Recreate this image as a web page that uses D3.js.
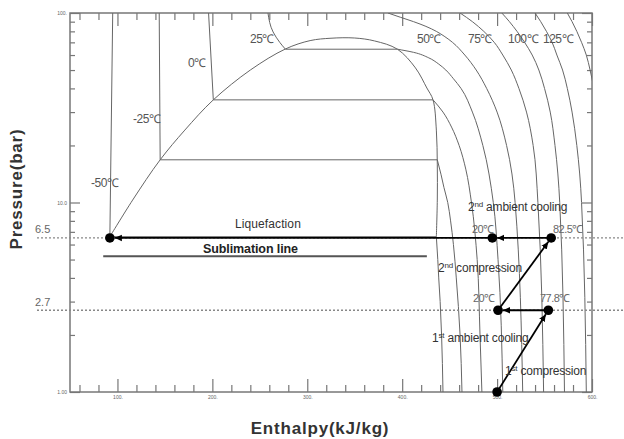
<!DOCTYPE html>
<html>
<head>
<meta charset="utf-8">
<script src="https://cdn.jsdelivr.net/npm/d3@7"></script>
<style>
  html, body { margin: 0; padding: 0; background: #fff; }
  svg { display: block; }
  text { font-family: "Liberation Sans", Arial, sans-serif; }
</style>
</head>
<body>
<script>
// ---- data (enthalpy kJ/kg, pressure bar) ----
const hTicksMajor = [100, 200, 300, 400, 500, 600]
const hTicksMinor = [60, 80, 120, 140, 160, 180, 220, 240, 260, 280, 320, 340, 360, 380, 420, 440, 460, 480, 520, 540, 560, 580]
const pTicksMajor = [1, 10, 100]
const pTicksMinor = [2, 3, 4, 5, 6, 7, 8, 9, 20, 30, 40, 50, 60, 70, 80, 90]
const pTickLabels = { 1: '1.00', 10: '10.0', 100: '100.' }

const domeH = [92, 116, 145, 171, 201, 240, 277, 303, 325, 350, 371, 395, 414, 426, 432.5, 436, 437, 437, 436]
const domeP = [6.6, 10.3, 16.8, 24.1, 34.8, 50, 64.6, 71.5, 73.6, 73.8, 71.2, 64.4, 51.3, 40.2, 34.8, 24.1, 15.8, 10.3, 6.6]

// tie lines: [temperature, pressure, h liquid, h vapour]
const tieT = ['-50', '-25', '0', '25']
const tieP = [6.6, 16.8, 34.8, 64.4]
const tieHl = [92, 145, 201, 277]
const tieHv = [436, 437, 432.5, 395]

// isotherms, liquid side
const isoLiquid = [
  { t: '-50', h: [95, 92], p: [100, 6.6] },
  { t: '-25', h: [144, 145], p: [100, 16.8] },
  { t: '0', h: [196, 201], p: [100, 34.8] },
  { t: '25', h: [258.6, 264, 271, 277], p: [100, 79.4, 70, 64.4] }
]
// isotherms, vapour / supercritical side
const isoVapour = [
  { t: '-50', h: [436, 437.5, 438.5, 440, 441.5, 443], p: [6.6, 5, 4, 3, 2, 1] },
  { t: '-25', h: [437, 441, 444, 448, 451, 454, 457, 461, 463], p: [16.8, 14, 12, 10, 8, 6, 4, 2, 1] },
  { t: '0', h: [432.5, 443, 452, 460, 467, 473, 479, 482, 484], p: [34.8, 30, 25, 20, 15, 10, 5, 2, 1] },
  { t: '25', h: [395, 412, 428, 438, 446, 454, 462, 474, 485, 496, 501, 506], p: [64.4, 62, 58, 54, 50, 45, 40, 30, 20, 10, 5, 1] },
  { t: '50', h: [385, 398, 412, 425, 436, 445, 453, 466, 478, 489, 500, 510, 519, 527], p: [100, 95, 90, 85, 80, 75, 70, 60, 50, 40, 30, 20, 10, 1] },
  { t: '75', h: [461, 474, 486, 497, 506, 515, 523, 531, 538, 543, 549], p: [100, 90, 80, 70, 60, 50, 40, 30, 20, 10, 1] },
  { t: '100', h: [505, 513, 521, 529, 537, 544, 550, 556, 561, 566, 571], p: [100, 90, 80, 70, 60, 50, 40, 30, 20, 10, 1] },
  { t: '125', h: [540, 546, 552, 558, 563, 569, 574, 579, 584, 589, 594], p: [100, 90, 80, 70, 60, 50, 40, 30, 20, 10, 1] },
  { t: '150', h: [574, 579, 584, 589, 594, 598, 602, 606], p: [100, 90, 80, 70, 60, 50, 40, 30] }
]

const sublimationP = 5.2
const sublimationH = [85, 426]

// process states: A(start) B(77.8) C(20) D(82.5) E(20) F(liquid)
const stateName = ['A', 'B', 'C', 'D', 'E', 'F']
const stateH = [500, 554, 501, 557, 495, 92]
const stateP = [1, 2.7, 2.7, 6.5, 6.5, 6.5]
const refPressures = [6.5, 2.7]

// ---- layout ----
const width = 624, height = 439
const x = d3.scaleLinear().domain([50, 600]).range([70, 592])
const y = d3.scaleLog().domain([1, 100]).range([392, 13])
const dotR = 4.8

let svg = d3.select('body').append('svg')
  .attr('width', width)
  .attr('height', height)

let defs = svg.append('defs')
defs.append('marker')
  .attr('id', 'arrow')
  .attr('viewBox', '0 0 10 10')
  .attr('refX', 10).attr('refY', 5)
  .attr('markerWidth', 4).attr('markerHeight', 4)
  .attr('markerUnits', 'strokeWidth')
  .attr('orient', 'auto')
  .append('path').attr('d', 'M0,0.5 L10,5 L0,9.5 Z').attr('fill', '#000')

const curveColor = '#666'

// axes
const axisG = svg.append('g').attr('class', 'axes')
function styleAxis(g) {
  g.select('.domain').remove()
  g.selectAll('line').attr('stroke', '#777').attr('stroke-width', 1.2)
  g.selectAll('text').attr('font-size', 5).attr('fill', '#666')
}
axisG.append('g').attr('transform', 'translate(0,392)')
  .call(d3.axisBottom(x).tickValues(hTicksMajor).tickSize(-13).tickPadding(3).tickFormat(d => d + '.'))
  .call(styleAxis)
axisG.append('g').attr('transform', 'translate(0,392)')
  .call(d3.axisBottom(x).tickValues(hTicksMinor).tickSize(-7).tickFormat(''))
  .call(styleAxis)
axisG.append('g').attr('transform', 'translate(0,13)')
  .call(d3.axisTop(x).tickValues(hTicksMajor).tickSize(-13).tickFormat(''))
  .call(styleAxis)
axisG.append('g').attr('transform', 'translate(0,13)')
  .call(d3.axisTop(x).tickValues(hTicksMinor).tickSize(-7).tickFormat(''))
  .call(styleAxis)
axisG.append('g').attr('transform', 'translate(70,0)')
  .call(d3.axisLeft(y).tickValues(pTicksMajor).tickSize(-10).tickPadding(3).tickFormat(d => pTickLabels[d]))
  .call(styleAxis)
axisG.append('g').attr('transform', 'translate(70,0)')
  .call(d3.axisLeft(y).tickValues(pTicksMinor).tickSize(-5).tickFormat(''))
  .call(styleAxis)
axisG.append('g').attr('transform', 'translate(592,0)')
  .call(d3.axisRight(y).tickValues(pTicksMajor).tickSize(-10).tickFormat(''))
  .call(styleAxis)
axisG.append('g').attr('transform', 'translate(592,0)')
  .call(d3.axisRight(y).tickValues(pTicksMinor).tickSize(-5).tickFormat(''))
  .call(styleAxis)

svg.append('rect')
  .attr('x', x(50)).attr('y', y(100))
  .attr('width', x(600) - x(50)).attr('height', y(1) - y(100))
  .attr('fill', 'none').attr('stroke', '#777').attr('stroke-width', 1.5)

// clip for curves
defs.append('clipPath').attr('id', 'plotClip')
  .append('rect')
  .attr('x', x(50)).attr('y', y(100))
  .attr('width', x(600) - x(50)).attr('height', y(1) - y(100))

let curves = svg.append('g').attr('clip-path', 'url(#plotClip)')
  .attr('fill', 'none').attr('stroke', curveColor).attr('stroke-width', 1)

const isoLine = d3.line().x(d => x(d[0])).y(d => y(d[1])).curve(d3.curveMonotoneY)
const domeLine = d3.line().x(d => x(d[0])).y(d => y(d[1])).curve(d3.curveCatmullRom.alpha(0.5))

curves.append('path').attr('d', domeLine(domeH.map((h, i) => [h, domeP[i]])))

isoLiquid.concat(isoVapour).forEach(iso => {
  curves.append('path').attr('d', isoLine(iso.h.map((h, i) => [h, iso.p[i]])))
})

tieP.forEach((p, i) => {
  curves.append('line')
    .attr('x1', x(tieHl[i])).attr('x2', x(tieHv[i]))
    .attr('y1', y(p)).attr('y2', y(p))
})

// sublimation line
svg.append('line')
  .attr('x1', x(sublimationH[0])).attr('x2', x(sublimationH[1]))
  .attr('y1', y(sublimationP)).attr('y2', y(sublimationP))
  .attr('stroke', '#555').attr('stroke-width', 2)

// dotted reference pressures
refPressures.forEach(p => {
  svg.append('line')
    .attr('x1', 37).attr('x2', width)
    .attr('y1', y(p)).attr('y2', y(p))
    .attr('stroke', '#888').attr('stroke-width', 1.3)
    .attr('stroke-dasharray', '2,2')
})

// process path, arrows stop at the edge of the next dot
const st = stateName.map((n, i) => ({ n: n, h: stateH[i], p: stateP[i] }))
const legs = [[0, 1], [1, 2], [2, 3], [3, 4], [4, 5]]
let proc = svg.append('g')
legs.forEach(([a, b]) => {
  let x1 = x(st[a].h), y1 = y(st[a].p), x2 = x(st[b].h), y2 = y(st[b].p)
  let len = Math.hypot(x2 - x1, y2 - y1)
  let ux = (x2 - x1) / len, uy = (y2 - y1) / len
  proc.append('line')
    .attr('x1', x1).attr('y1', y1)
    .attr('x2', x2 - ux * dotR).attr('y2', y2 - uy * dotR)
    .attr('stroke', '#000').attr('stroke-width', 1.8)
    .attr('marker-end', 'url(#arrow)')
})
proc.selectAll('circle').data(st).join('circle')
  .attr('cx', d => x(d.h)).attr('cy', d => y(d.p))
  .attr('r', dotR).attr('fill', '#000')

// isotherm labels
const serif = '"Liberation Serif", "Times New Roman", serif'
const isoLabels = [
  ['-50℃', 91, 187], ['-25℃', 133, 123], ['0℃', 188, 67], ['25℃', 250, 43],
  ['50℃', 417, 43], ['75℃', 468, 43], ['100℃', 508, 43], ['125℃', 543, 43]
]
svg.append('g').selectAll('text').data(isoLabels).join('text')
  .attr('x', d => d[1]).attr('y', d => d[2])
  .attr('font-family', serif).attr('font-size', 12).attr('fill', '#555')
  .attr('letter-spacing', -0.5)
  .text(d => d[0])

// pressure labels
svg.append('text').attr('x', 35).attr('y', 233).attr('font-size', 11).attr('fill', '#666').text('6.5')
svg.append('text').attr('x', 35).attr('y', 306).attr('font-size', 11).attr('fill', '#666').text('2.7')

// annotations
function note(xp, yp, parts, opts) {
  let t = svg.append('text').attr('x', xp).attr('y', yp)
    .attr('font-size', opts && opts.size || 12)
    .attr('fill', opts && opts.fill || '#333')
    .attr('font-weight', opts && opts.bold ? 'bold' : null)
    .attr('letter-spacing', opts && opts.ls || -0.2)
  parts.forEach(p => {
    if (p.sup) t.append('tspan').attr('dy', -4).attr('font-size', 8).text(p.s)
    else t.append('tspan').attr('dy', p.after ? 4 : 0).text(p.s)
  })
  return t
}
note(235, 228, [{ s: 'Liquefaction' }], { ls: 0.1 })
note(203, 253, [{ s: 'Sublimation line' }], { bold: true, size: 12.5, fill: '#222', ls: -0.1 })
note(468, 211, [{ s: '2' }, { s: 'nd', sup: true }, { s: ' ambient cooling', after: true }])
note(438, 272, [{ s: '2' }, { s: 'nd', sup: true }, { s: ' compression', after: true }])
note(432, 342, [{ s: '1' }, { s: 'st', sup: true }, { s: ' ambient cooling', after: true }])
note(505, 375, [{ s: '1' }, { s: 'st', sup: true }, { s: ' compression', after: true }])

const stateLabels = [['20℃', 472, 233], ['82.5℃', 553, 233], ['20℃', 473, 302], ['77.8℃', 540, 302]]
svg.append('g').selectAll('text').data(stateLabels).join('text')
  .attr('x', d => d[1]).attr('y', d => d[2])
  .attr('font-size', 11).attr('fill', '#666').attr('letter-spacing', -0.5)
  .text(d => d[0])

// axis titles
svg.append('text')
  .attr('transform', 'translate(22,189) rotate(-90)')
  .attr('text-anchor', 'middle')
  .attr('font-family', '"DejaVu Sans", sans-serif')
  .attr('font-weight', 'bold').attr('font-size', 17).attr('fill', '#333')
  .attr('letter-spacing', 0.8)
  .text('Pressure(bar)')
svg.append('text')
  .attr('x', 320).attr('y', 434)
  .attr('text-anchor', 'middle')
  .attr('font-family', '"DejaVu Sans", sans-serif')
  .attr('font-weight', 'bold').attr('font-size', 17).attr('fill', '#333')
  .attr('letter-spacing', 0.8)
  .text('Enthalpy(kJ/kg)')
</script>
</body>
</html>
